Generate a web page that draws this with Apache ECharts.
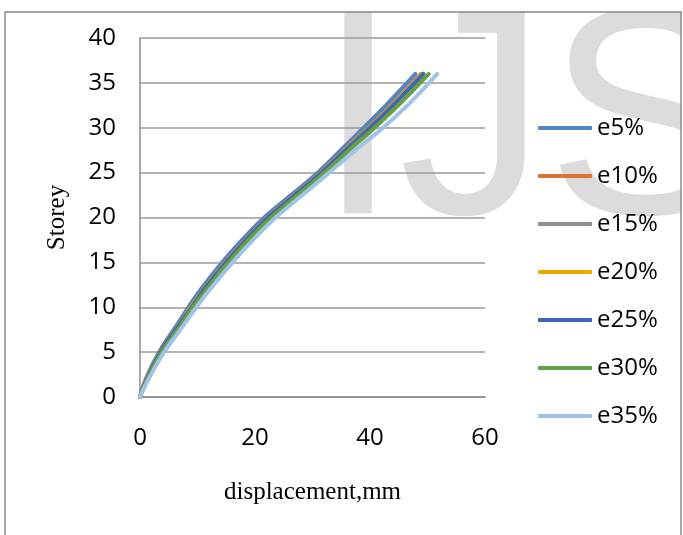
<!DOCTYPE html>
<html>
<head>
<meta charset="utf-8">
<script src="https://cdn.jsdelivr.net/npm/echarts@6/dist/echarts.min.js"></script>
<style>html,body{margin:0;padding:0;background:#fff;}#c{width:683px;height:535px;}</style>
</head>
<body>
<div id="c"></div>
<script>
var storeys = [0, 2, 5, 8, 10, 12, 15, 18, 20, 22, 25, 28, 30, 33, 36];
var seriesNames = ['e5%', 'e10%', 'e15%', 'e20%', 'e25%', 'e30%', 'e35%'];
var dispE5  = [0, 1.0, 3.3, 6.4, 8.4, 10.6, 14.3, 18.5, 21.6, 25.3, 30.9, 35.7, 38.9, 43.5, 47.9];
var dispE10 = [0, 1.1, 3.5, 6.7, 8.8, 11.0, 14.8, 19.0, 22.1, 25.8, 31.4, 36.3, 39.7, 44.4, 48.9];
var dispE15 = [0, 1.15, 3.55, 6.75, 8.85, 11.1, 14.9, 19.1, 22.2, 25.9, 31.5, 36.4, 39.8, 44.6, 49.1];
var dispE20 = [0, 1.2, 3.6, 6.8, 8.9, 11.2, 15.0, 19.2, 22.3, 26.0, 31.6, 36.5, 39.9, 44.7, 49.2];
var dispE25 = [0, 1.2, 3.6, 6.8, 9.0, 11.2, 15.0, 19.2, 22.3, 26.0, 31.6, 36.6, 40.0, 44.8, 49.3];
var dispE30 = [0, 1.3, 3.8, 7.1, 9.2, 11.6, 15.4, 19.6, 22.8, 26.5, 32.1, 37.2, 40.8, 45.7, 50.2];
var dispE35 = [0, 1.5, 4.2, 7.6, 9.8, 12.2, 16.1, 20.4, 23.6, 27.3, 32.9, 38.4, 42.3, 47.3, 51.7];
var xTicks = [0, 20, 40, 60];
var yTicks = [0, 5, 10, 15, 20, 25, 30, 35, 40];

var allDisp = [dispE5, dispE10, dispE15, dispE20, dispE25, dispE30, dispE35];
var colors = ['#4F87C4', '#DD7234', '#909090', '#E8AA00', '#3F66B3', '#64A140', '#9FC4E8'];

var chart = echarts.init(document.getElementById('c'), null, {renderer: 'canvas'});
var series = seriesNames.map(function (n, i) {
  return {
    name: n,
    type: 'line',
    smooth: 0.4,
    showSymbol: false,
    symbol: 'none',
    z: 3 + i,
    lineStyle: {width: 4, color: colors[i], cap: 'round'},
    itemStyle: {color: colors[i]},
    data: storeys.map(function (s, k) { return [allDisp[i][k], s]; })
  };
});

chart.setOption({
  animation: false,
  backgroundColor: '#fff',
  graphic: [
    {type: 'text', z: -100, silent: true, style: {text: 'IJS', x: 317, y: 132, font: '295px "Liberation Sans"', fill: '#dcdcdc', verticalAlign: 'middle', align: 'left'}},
    {type: 'rect', z: -99, silent: true, shape: {x: 0, y: 0, width: 683, height: 11.5}, style: {fill: '#fff'}},
    {type: 'rect', z: -99, silent: true, shape: {x: 681.5, y: 0, width: 2, height: 535}, style: {fill: '#fff'}},
    {type: 'rect', z: 100, silent: true, shape: {x: 5, y: 12, width: 676, height: 540}, style: {fill: 'none', stroke: '#8a8a8a', lineWidth: 1.5}}
  ],
  grid: {left: 140, right: 198, top: 38, bottom: 138, containLabel: false},
  legend: {
    orient: 'vertical',
    left: 538,
    top: 116,
    padding: 0,
    itemWidth: 54,
    itemHeight: 4,
    itemGap: 24,
    icon: 'roundRect',
    textStyle: {fontFamily: '"Open Sans"', fontSize: 24, color: '#000', lineHeight: 24},
    data: seriesNames
  },
  xAxis: {
    type: 'value', min: 0, max: 60, interval: 20,
    name: 'displacement,mm', nameLocation: 'middle', nameGap: 83,
    nameTextStyle: {fontFamily: '"Liberation Serif"', fontSize: 25, color: '#000'},
    axisLine: {show: true, lineStyle: {color: '#8c8c8c', width: 1.5}},
    axisTick: {show: false},
    splitLine: {show: false},
    axisLabel: {fontFamily: '"Open Sans"', fontSize: 24, color: '#000', margin: 29,
      formatter: function (v) { return xTicks.indexOf(v) >= 0 ? String(v) : ''; }}
  },
  yAxis: {
    type: 'value', min: 0, max: 40, interval: 5,
    name: 'Storey', nameLocation: 'middle', nameGap: 70, nameRotate: 90,
    nameTextStyle: {fontFamily: '"Liberation Serif"', fontSize: 25, color: '#000'},
    axisLine: {show: true, lineStyle: {color: '#8c8c8c', width: 1.5}},
    axisTick: {show: false},
    splitLine: {show: true, lineStyle: {color: '#9a9a9a', width: 1.5}},
    axisLabel: {fontFamily: '"Open Sans"', fontSize: 24, color: '#000', margin: 24,
      formatter: function (v) { return yTicks.indexOf(v) >= 0 ? String(v) : ''; }}
  },
  series: series
});
</script>
</body>
</html>
